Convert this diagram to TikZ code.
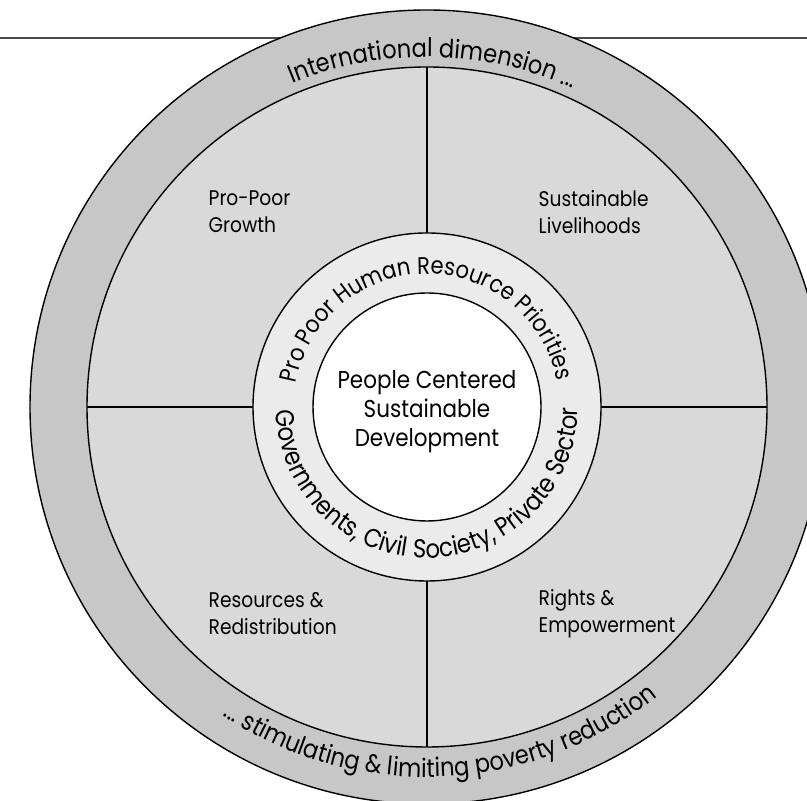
\documentclass[tikz,border=0pt]{standalone}
\usepackage{fontspec}
\setmainfont{Poppins}[FakeStretch=0.88]
\usepackage{tikz}
\usetikzlibrary{decorations.text}

\definecolor{outerring}{gray}{0.78}
\definecolor{quadrant}{gray}{0.85}
\definecolor{innerring}{gray}{0.92}

\begin{document}
\begin{tikzpicture}[x=0.5pt,y=0.5pt,line width=0.7pt]
  \tikzstyle{rim}=[draw=black,line width=0.7pt]
  \tikzstyle{quadtext}=[align=left,anchor=west,inner sep=0pt,
                        font=\fontsize{10.6}{13.5}\selectfont]
  \tikzstyle{ringtext}=[decorate,decoration={text along path,text align=center}]

  \useasboundingbox (0,0) rectangle (807,801);
  \clip (0,0) rectangle (807,801);

  \coordinate (c) at (427,394);
  \coordinate (w) at (0,763);
  \coordinate (e) at (807,763);
  \draw[line width=1.2pt,draw=black!70] (w) -- (e);

  % rings
  \filldraw[rim,fill=outerring] (c) circle[radius=397];
  \filldraw[rim,fill=quadrant]  (c) circle[radius=340];
  \path (c) ++(0,340) coordinate (n) (c) ++(0,-340) coordinate (s)
        (c) ++(-340,0) coordinate (l) (c) ++(340,0) coordinate (r);
  \draw (n) -- (s) (l) -- (r);
  \filldraw[rim,fill=innerring] (c) circle[radius=174];
  \filldraw[rim,fill=white]     (c) circle[radius=114];

  % texts on the rings
  \path[ringtext,decoration={text={|\fontsize{12.8}{14}\selectfont|International dimension ...}}]
    (c) ++(129:350) arc[start angle=129,end angle=49,radius=350];
  \path[ringtext,decoration={text={|\fontsize{12.8}{14}\selectfont|... stimulating {\&} limiting poverty reduction}}]
    (c) ++(212:370) arc[start angle=212,end angle=333,radius=370];
  \path[ringtext,decoration={text={|\fontsize{12}{13}\selectfont|Pro Poor Human Resource Priorities}}]
    (c) ++(185:133) arc[start angle=185,end angle=-4,radius=133];
  \path[ringtext,decoration={text={|\fontsize{13}{14}\selectfont|Governments, Civil Society, Private Sector}}]
    (c) ++(176:151) arc[start angle=176,end angle=365,radius=151];

  \node[align=center,font=\fontsize{12.2}{14.5}\selectfont] (core) at (427,389)
    {People Centered\\Sustainable\\Development};

  \node[quadtext] (growth)       at (208,589) {Pro-Poor\\Growth};
  \node[quadtext] (livelihoods)  at (538,589) {Sustainable\\Livelihoods};
  \node[quadtext] (resources)    at (208,187) {Resources \&\\Redistribution};
  \node[quadtext] (rights)       at (538,187) {Rights \&\\Empowerment};
\end{tikzpicture}
\end{document}
